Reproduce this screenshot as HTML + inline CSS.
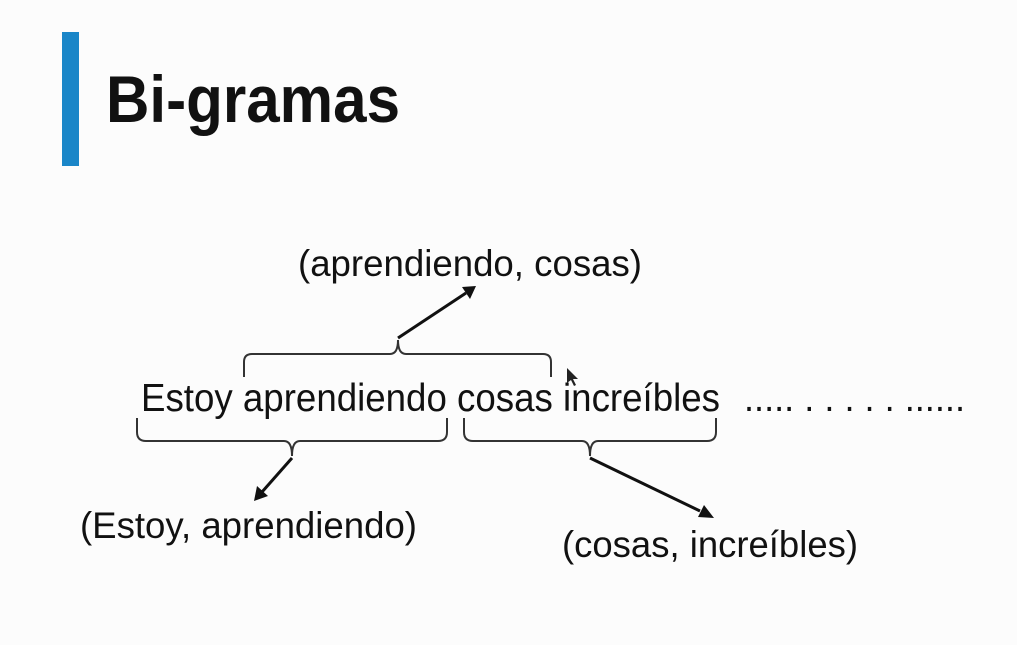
<!DOCTYPE html>
<html><head><meta charset="utf-8"><style>
html,body{margin:0;padding:0;background:#fcfcfc;}
svg{display:block}
text{font-family:"Liberation Sans",Arial,sans-serif;fill:#111}
</style></head><body>
<svg width="1017" height="645" viewBox="0 0 1017 645" xmlns="http://www.w3.org/2000/svg">
<rect width="1017" height="645" fill="#fcfcfc"/>
<rect x="62" y="32" width="17" height="134" fill="#1a86c8"/>
<text x="106" y="122" font-size="66" font-weight="bold" textLength="294" lengthAdjust="spacingAndGlyphs">Bi-gramas</text>

<text x="298" y="276" font-size="37" textLength="344" lengthAdjust="spacingAndGlyphs">(aprendiendo, cosas)</text>
<text x="141" y="411" font-size="39" textLength="579" lengthAdjust="spacingAndGlyphs">Estoy aprendiendo cosas increíbles</text>
<text x="744" y="411" font-size="38" textLength="221" lengthAdjust="spacingAndGlyphs">..... . . . . . ......</text>
<text x="80" y="538" font-size="37" textLength="337" lengthAdjust="spacingAndGlyphs">(Estoy, aprendiendo)</text>
<text x="562" y="557" font-size="37" textLength="296" lengthAdjust="spacingAndGlyphs">(cosas, increíbles)</text>

<g fill="none" stroke="#333" stroke-width="2">
<path d="M244,377 V362 Q244,354 252,354 H390 Q398,354 398,340 Q398,354 406,354 H543 Q551,354 551,362 V377"/>
<path d="M137,418 V432 Q137,441 146,441 H284 Q292,441 292,456 Q292,441 300,441 H438 Q447,441 447,432 V418"/>
<path d="M464,418 V432 Q464,441 473,441 H582 Q590,441 590,456 Q590,441 598,441 H707 Q716,441 716,432 V418"/>
</g>
<g stroke="#111" stroke-width="3" fill="none">
<path d="M398,338 L466,293"/>
<path d="M292,458 L262,492"/>
<path d="M590,458 L700,511"/>
</g>
<g fill="#111">
<polygon points="476,286 462,287 470,299"/>
<polygon points="254,501 257,486 268,496"/>
<polygon points="714,518 698,517 704,505"/>
</g>
<polygon points="567,368 567,383 571,380 574,386 576,385 573,379 578,379" fill="#222"/>
</svg>
</body></html>
